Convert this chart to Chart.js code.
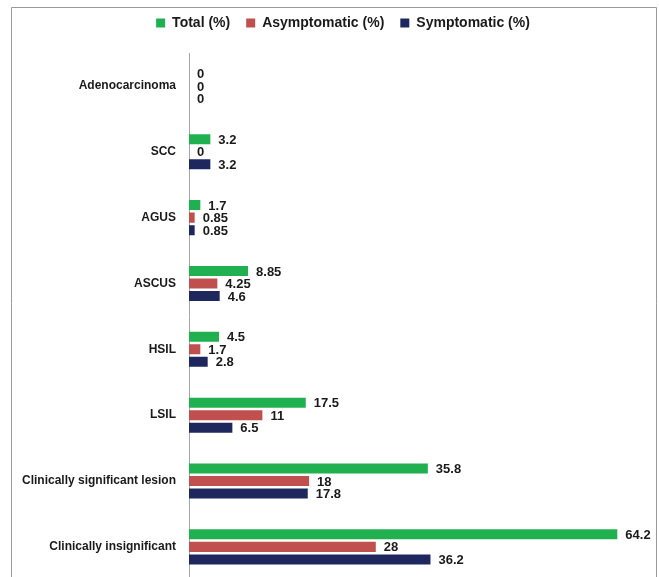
<!DOCTYPE html>
<html lang="en">
<head>
    <meta charset="UTF-8">
    <title>Cytology results</title>
    <script src="https://cdn.jsdelivr.net/npm/chart.js"></script>
    <style>
        body { margin: 0; background: #fff; }
        #wrap { position: relative; width: 659px; height: 577px; overflow: hidden; }
    </style>
</head>
<body>
    <div id="wrap"><canvas id="cytoChart" width="659" height="600"></canvas></div>
    <script>
        // categories (top to bottom)
        const categories = ['Adenocarcinoma', 'SCC', 'AGUS', 'ASCUS', 'HSIL', 'LSIL',
            'Clinically significant lesion', 'Clinically insignificant'];
        const total = [0, 3.2, 1.7, 8.85, 4.5, 17.5, 35.8, 64.2];
        const asymptomatic = [0, 0, 0.85, 4.25, 1.7, 11, 18, 28];
        const symptomatic = [0, 3.2, 0.85, 4.6, 2.8, 6.5, 17.8, 36.2];

        const FONT = '"Liberation Sans", Arial, sans-serif';

        // frame round the picture, like the source figure
        const framePlugin = {
            id: 'frame',
            beforeDraw(chart) {
                const c = chart.ctx;
                c.save();
                c.strokeStyle = '#9a9a9a';
                c.lineWidth = 1;
                c.beginPath();
                c.moveTo(11.5, 600);
                c.lineTo(11.5, 7.5);
                c.lineTo(656.5, 7.5);
                c.lineTo(656.5, 600);
                c.stroke();
                c.restore();
            }
        };

        // extra room under the legend, and nudge it a little to the right
        const legendSpace = {
            id: 'legendSpace',
            beforeInit(chart) {
                const lg = chart.legend;
                const fit = lg.fit;
                lg.fit = function () {
                    fit.bind(lg)();
                    this.height += 13;
                };
                const draw = lg.draw;
                lg.draw = function () {
                    chart.ctx.save();
                    chart.ctx.translate(9, 0);
                    draw.bind(lg)();
                    chart.ctx.restore();
                };
            }
        };

        // value labels at the end of each bar
        const valuePlugin = {
            id: 'values',
            afterDatasetsDraw(chart) {
                const c = chart.ctx;
                c.save();
                c.font = 'bold 13px ' + FONT;
                c.fillStyle = '#1a1a1a';
                c.textBaseline = 'middle';
                c.textAlign = 'left';
                chart.data.datasets.forEach((ds, i) => {
                    chart.getDatasetMeta(i).data.forEach((bar, j) => {
                        c.fillText(String(ds.data[j]), bar.x + 8, bar.y + 1);
                    });
                });
                c.restore();
            }
        };

        new Chart(document.getElementById('cytoChart'), {
            type: 'bar',
            data: {
                labels: categories,
                datasets: [
                    { label: 'Total (%)', data: total, backgroundColor: '#20b050' },
                    { label: 'Asymptomatic (%)', data: asymptomatic, backgroundColor: '#c0504d' },
                    { label: 'Symptomatic (%)', data: symptomatic, backgroundColor: '#1f285e' }
                ]
            },
            options: {
                indexAxis: 'y',
                responsive: false,
                animation: false,
                categoryPercentage: 0.57,
                barPercentage: 0.8,
                layout: { padding: { top: 0, left: 12, right: 3, bottom: 0 } },
                plugins: {
                    legend: {
                        position: 'top',
                        labels: {
                            boxWidth: 9,
                            boxHeight: 9,
                            padding: 16,
                            color: '#1a1a1a',
                            font: { family: FONT, size: 14, weight: 'bold' }
                        }
                    },
                    tooltip: { enabled: false }
                },
                scales: {
                    x: { display: false, min: 0, max: 70 },
                    y: {
                        afterFit(scale) { scale.width = 177; },
                        grid: { display: false, drawTicks: false },
                        border: { display: true, color: '#a6a6a6', width: 1 },
                        ticks: {
                            padding: 13,
                            color: '#1a1a1a',
                            font: { family: FONT, size: 12, weight: 'bold' }
                        }
                    }
                }
            },
            plugins: [framePlugin, legendSpace, valuePlugin]
        });
    </script>
</body>
</html>
